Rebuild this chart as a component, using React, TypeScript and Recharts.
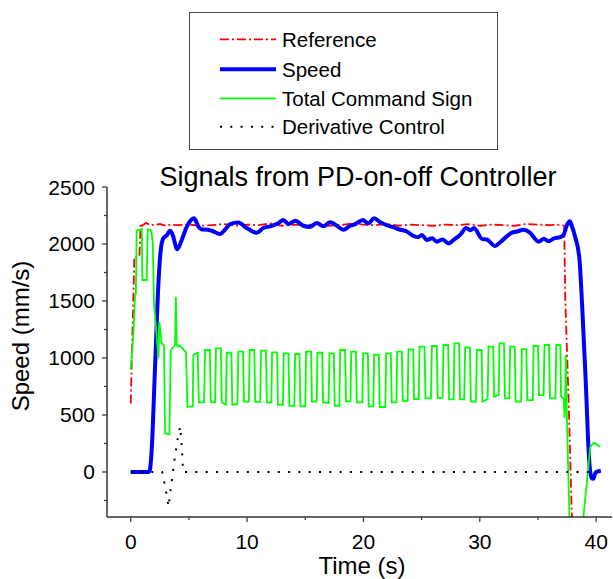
import { LineChart, Line, XAxis, YAxis, Label } from 'recharts'

// Reference speed command
const refT = [0, 0.31, 0.5, 0.74, 0.86, 1.0, 1.3, 1.6, 2.0, 2.5, 3.0, 3.5, 4.0, 5, 6, 7, 8, 9, 10, 11, 12, 13, 14, 15, 16, 17, 18, 19, 20, 21, 22, 23, 24, 25, 26, 27, 28, 29, 30, 31, 32, 33, 34, 35, 36, 37, 37.25, 37.35, 37.65, 37.9, 38.0]
const refV = [600, 1888, 1880, 1890, 2180, 2160, 2185, 2170, 2165, 2175, 2160, 2170, 2165, 2170, 2160, 2165, 2175, 2160, 2170, 2165, 2180, 2160, 2170, 2165, 2175, 2160, 2165, 2180, 2170, 2165, 2175, 2160, 2170, 2165, 2160, 2170, 2165, 2175, 2160, 2170, 2165, 2160, 2175, 2170, 2165, 2170, 2160, 1500, 570, -360, -500]

// Measured speed
const speedT = [0, 1.52, 1.65, 1.8, 2.09, 2.38, 2.58, 2.8, 3.1, 3.38, 3.6, 4.0, 4.38, 4.81, 5.1, 5.44, 5.82, 6.1, 6.6, 6.96, 7.68, 8.1, 8.54, 9.25, 9.97, 10.83, 11.4, 11.98, 12.55, 13.12, 13.55, 14.13, 14.84, 15.41, 15.99, 16.56, 17.14, 17.71, 18.28, 18.86, 19.3, 19.95, 20.4, 20.92, 21.44, 22.0, 22.6, 23.16, 23.73, 24.3, 24.73, 25.0, 25.45, 25.9, 26.31, 26.8, 27.31, 27.8, 28.31, 28.83, 29.2, 29.5, 30.18, 30.6, 31.32, 31.8, 32.76, 33.2, 33.76, 34.3, 35.05, 35.5, 35.9, 36.4, 36.91, 37.2, 37.5, 37.72, 37.9, 38.2, 38.55, 38.8, 39.1, 39.4, 39.6, 39.75, 39.95, 40.4]
const speedV = [0, 0, 20, 193, 923, 1655, 1947, 2050, 2078, 2116, 2080, 1953, 2035, 2151, 2200, 2225, 2151, 2128, 2125, 2116, 2087, 2125, 2175, 2188, 2140, 2099, 2140, 2155, 2175, 2210, 2175, 2204, 2160, 2150, 2184, 2155, 2190, 2160, 2125, 2160, 2175, 2210, 2180, 2225, 2190, 2166, 2145, 2125, 2110, 2070, 2060, 2080, 2035, 2050, 2020, 2040, 2005, 2040, 2080, 2140, 2120, 2140, 2045, 2040, 1982, 2020, 2099, 2110, 2125, 2100, 2020, 2045, 2025, 2050, 2060, 2080, 2170, 2200, 2160, 2060, 1880, 1450, 800, 100, -50, -60, -5, 10]

// Total command sign
const cmdT = [
  0, 0.23, 0.37, 0.44, 0.51, 0.86, 0.95, 1.0, 1.37, 1.46, 1.7, 1.8, 1.89, 2.0, 2.38, 2.46, 2.66, 2.86, 2.95, 3.32, 3.44, 3.81, 3.88, 3.95, 4.05, 4.2, 4.4, 4.75, 4.87, 5.33,
  5.38, 5.76, 5.85, 6.3, 6.39, 6.8, 6.88, 7.25, 7.33, 7.75, 7.82, 8.18, 8.25, 8.65, 8.73, 9.17,
  9.25, 9.65, 9.73, 10.15, 10.22, 10.62, 10.7, 11.12, 11.2, 11.62, 11.7, 12.08, 12.15, 12.58, 12.65, 13.08,
  13.15, 13.55, 13.63, 14.06, 14.13, 14.5, 14.58, 15.0, 15.07, 15.5, 15.57, 15.98, 16.05, 16.45, 16.53, 17.0,
  17.08, 17.45, 17.53, 17.93, 18.0, 18.42, 18.5, 18.88, 18.95, 19.35, 19.43, 19.9, 19.97, 20.38, 20.45, 20.85,
  20.92, 21.32, 21.4, 21.88, 21.95, 22.35, 22.43, 22.83, 22.9, 23.3, 23.38, 23.8, 23.87, 24.28, 24.35, 24.75,
  24.82, 25.25, 25.33, 25.8, 25.88, 26.3, 26.38, 26.8, 26.88, 27.28, 27.36, 27.75, 27.82, 28.22, 28.3, 28.66,
  28.74, 29.15, 29.23, 29.67, 29.75, 30.15, 30.23, 30.67, 30.75, 31.15, 31.23, 31.62, 31.69, 32.08, 32.16, 32.53,
  32.61, 33.0, 33.08, 33.55, 33.62, 34.0, 34.08, 34.55, 34.62, 35.0, 35.08, 35.48, 35.56, 35.95, 36.03, 36.5,
  36.57, 36.92, 36.98, 37.22, 37.28, 37.33, 37.38, 37.45, 37.6, 37.72, 38.85, 39.5, 39.8, 40.35,
]
const cmdV = [
  900, 1216, 1550, 1560, 2122, 2122, 2140, 1684, 1684, 2128, 2125, 2090, 2005, 1480, 997, 1318, 1129, 1110, 339, 330, 1070, 1114, 1537, 1110, 1100, 1110, 1090, 1050, 573, 573,
  1026, 1046, 610, 610, 1070, 1070, 615, 612, 1085, 1085, 610, 590, 1046, 1046, 590, 595,
  1055, 1055, 617, 617, 1070, 1070, 615, 615, 1064, 1064, 608, 608, 1050, 1050, 588, 588,
  1040, 1040, 580, 580, 1035, 1035, 575, 575, 1055, 1055, 617, 617, 1046, 1046, 610, 605,
  1040, 1040, 580, 580, 1070, 1070, 620, 620, 1055, 1055, 610, 610, 1040, 1040, 575, 575,
  1030, 1030, 570, 570, 1040, 1040, 610, 610, 1055, 1055, 625, 625, 1075, 1075, 640, 640,
  1099, 1099, 646, 646, 1105, 1105, 650, 650, 1114, 1114, 637, 637, 1129, 1129, 637, 637,
  1093, 1093, 617, 617, 1070, 1070, 617, 640, 1099, 1099, 660, 675, 1129, 1129, 646, 646,
  1100, 1100, 617, 617, 1078, 1078, 630, 630, 1105, 1105, 675, 675, 1114, 1114, 646, 646,
  1114, 1114, 660, 640, 471, 600, 1026, 640, 0, -450, -450, 222, 257, 222,
]

// Derivative control
const derivT = [0, 2.7, 3.0, 3.25, 3.5, 3.75, 4.05, 4.25, 4.4, 4.5, 40.4]
const derivV = [0, 0, -150, -305, -100, 100, 300, 400, 200, 0, 0]

const xTicks = [0, 5, 10, 15, 20, 25, 30, 35, 40]
const yTicks = [-250, 0, 250, 500, 750, 1000, 1250, 1500, 1750, 2000, 2250, 2500]

const zip = (t: number[], v: number[]) => t.map((x, i) => ({ t: x, v: v[i] }))
const refData = zip(refT, refV)
const speedData = zip(speedT, speedV)
const cmdData = zip(cmdT, cmdV)
const derivData = zip(derivT, derivV)

const FONT = '"Liberation Sans", Arial, Helvetica, sans-serif'
const AXIS = '#333'

const legendItems = [
  { name: 'Reference', color: '#ff0000', width: 1.8, dash: '9 3 2 3' },
  { name: 'Speed', color: '#0000ff', width: 4, dash: undefined },
  { name: 'Total Command Sign', color: '#00ff00', width: 1.8, dash: undefined },
  { name: 'Derivative Control', color: '#000000', width: 2, dash: '2 8.3' },
]

function XTick(props: any) {
  const { x, y, payload } = props
  const major = payload.value % 10 === 0
  return (
    <g>
      <line x1={x} x2={x} y1={y} y2={y + (major ? 5 : 3)} stroke={AXIS} strokeWidth={1.2} />
      {major && (
        <text x={x} y={y + 32} textAnchor="middle" fontSize={21} fontFamily={FONT} fill="#000">
          {payload.value}
        </text>
      )}
    </g>
  )
}

function YTick(props: any) {
  const { x, y, payload } = props
  const major = payload.value % 500 === 0
  return (
    <g>
      <line x1={x - (major ? 5 : 3)} x2={x} y1={y} y2={y} stroke={AXIS} strokeWidth={1.2} />
      {major && (
        <text x={x - 12} y={y + 7.5} textAnchor="end" fontSize={21} fontFamily={FONT} fill="#000">
          {payload.value}
        </text>
      )}
    </g>
  )
}

function LegendBox() {
  return (
    <svg width={311} height={140} style={{ position: 'absolute', left: 188, top: 11 }}>
      <rect x={1.5} y={1.5} width={308} height={137} fill="#fff" stroke="#444" strokeWidth={1} />
      {legendItems.map((it, i) => {
        const cy = [28.3, 58.3, 87.3, 115.7][i]
        return (
          <g key={it.name}>
            <line x1={32} x2={88} y1={cy} y2={cy} stroke={it.color} strokeWidth={it.width} strokeDasharray={it.dash} />
            <text x={94} y={cy + 7.3} fontSize={20.5} fontFamily={FONT} fill="#000">{it.name}</text>
          </g>
        )
      })}
    </svg>
  )
}

export default function App() {
  return (
    <div style={{ position: 'absolute', left: 0, top: 0, width: 613, height: 579, background: '#fff' }}>
      <LineChart width={613} height={579} margin={{ top: 187, right: 1, bottom: 0, left: 0 }}>
        <XAxis
          type="number"
          dataKey="t"
          domain={[-2.04, 41.36]}
          allowDataOverflow
          ticks={xTicks}
          interval={0}
          height={62}
          tickSize={0}
          tickMargin={0}
          tickLine={false}
          tick={<XTick />}
          axisLine={{ stroke: AXIS, strokeWidth: 1.5 }}
        >
          <Label
            content={() => (
              <text x={362} y={574} textAnchor="middle" fontSize={24} fontFamily={FONT} fill="#000">
                Time (s)
              </text>
            )}
          />
        </XAxis>
        <YAxis
          type="number"
          dataKey="v"
          domain={[-395, 2500]}
          allowDataOverflow
          ticks={yTicks}
          interval={0}
          width={107}
          tickSize={0}
          tickMargin={0}
          tickLine={false}
          tick={<YTick />}
          axisLine={{ stroke: AXIS, strokeWidth: 1.5 }}
        >
          <Label
            content={() => (
              <text
                x={29}
                y={336}
                transform="rotate(-90 29 336)"
                textAnchor="middle"
                fontSize={24}
                fontFamily={FONT}
                fill="#000"
              >
                Speed (mm/s)
              </text>
            )}
          />
        </YAxis>
        <Line data={refData} dataKey="v" type="linear" stroke="#ff0000" strokeWidth={1.8} strokeDasharray="9 3 2 3" dot={false} activeDot={false} isAnimationActive={false} />
        <Line data={speedData} dataKey="v" type="monotone" stroke="#0000ff" strokeWidth={4} dot={false} activeDot={false} isAnimationActive={false} />
        <Line data={cmdData} dataKey="v" type="linear" stroke="#00ff00" strokeWidth={1.8} dot={false} activeDot={false} isAnimationActive={false} />
        <Line data={derivData} dataKey="v" type="linear" stroke="#000000" strokeWidth={2} strokeDasharray="2 8.3" dot={false} activeDot={false} isAnimationActive={false} />
      </LineChart>
      <div
        style={{
          position: 'absolute',
          left: 58,
          width: 600,
          top: 164,
          textAlign: 'center',
          fontSize: 27,
          lineHeight: '27px',
          fontFamily: FONT,
          color: '#000',
        }}
      >
        Signals from PD-on-off Controller
      </div>
      <LegendBox />
    </div>
  )
}
